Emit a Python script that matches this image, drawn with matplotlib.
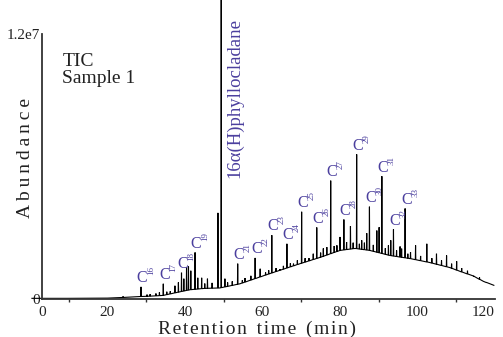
import numpy as np
import matplotlib
matplotlib.use("Agg")
import matplotlib.pyplot as plt

# ---------------- data ----------------
# baseline / UCM hump anchors: retention time (min), abundance (x1e6)
base_rt = [0.5, 10, 20, 24, 28, 30, 34.3, 38, 41.3, 45, 49.0, 54.2, 61.9, 69.7,
           74.8, 80.0, 83.9, 87.7, 92.9, 98.1, 103.2, 108.4, 111.0, 114.3, 117.0, 119.7]
base_val = [0.03, 0.03, 0.04, 0.07, 0.11, 0.12, 0.16, 0.3, 0.42, 0.48, 0.5, 0.69, 1.15, 1.6,
            1.88, 2.2, 2.29, 2.2, 1.97, 1.83, 1.65, 1.42, 1.25, 1.05, 0.8, 0.62]

# resolved peaks: retention time (min), apex abundance (x1e6)
peak_rt = [24.0, 26.5, 28.65, 30.2, 31.0, 32.5, 33.4, 34.4, 35.3, 36.2, 37.4, 38.3,
           39.1, 39.7, 40.4, 40.9, 41.5, 42.6, 43.3, 44.3, 45.1, 45.8, 47.0, 48.5,
           49.35, 50.3, 51.0, 52.2, 53.6, 54.8, 55.5, 57.0, 58.1, 59.4, 60.8, 61.6,
           62.4, 63.5, 64.5, 65.4, 66.3, 67.2, 68.0, 69.0, 70.1, 71.0, 72.0, 73.1,
           74.0, 75.0, 75.7, 76.6, 77.6, 78.5, 79.2, 80.0, 81.0, 81.7, 82.7, 83.4,
           84.3, 85.0, 85.6, 86.3, 86.9, 87.6, 88.6, 89.5, 90.1, 90.8, 91.7, 92.5,
           93.1, 93.8, 94.6, 95.5, 95.9, 96.8, 97.5, 98.2, 99.5, 100.8, 102.4, 103.7,
           104.9, 106.2, 107.5, 108.8, 110.1, 111.4, 112.9, 114.5, 116.0, 117.8]
peak_top = [0.12, 0.10, 0.55, 0.20, 0.22, 0.25, 0.30, 0.69, 0.33, 0.35, 0.60, 0.75,
            1.19, 0.92, 1.42, 1.47, 1.28, 2.11, 0.96, 0.96, 0.70, 0.92, 0.73, 3.9,
            13.6, 0.92, 0.75, 0.80, 1.60, 0.85, 0.95, 1.05, 1.86, 1.37, 1.20, 1.30,
            2.89, 1.40, 1.35, 1.50, 2.50, 1.62, 1.60, 1.75, 3.95, 1.85, 1.85, 2.05,
            3.24, 2.10, 2.29, 2.35, 5.36, 2.40, 2.43, 2.81, 3.60, 2.58, 3.30, 2.55,
            6.55, 2.50, 2.66, 2.55, 2.98, 4.18, 2.45, 3.10, 3.25, 5.56, 2.30, 2.43,
            2.66, 3.15, 2.20, 2.38, 2.28, 4.10, 2.05, 2.12, 2.43, 1.95, 2.50, 1.85,
            2.05, 1.75, 1.97, 1.60, 1.71, 1.40, 1.28, 1.05, 0.98, 0.75]

# n-alkane labels
alk_num = ['16', '17', '18', '19', '21', '22', '23', '24', '25', '26', '27', '28',
           '29', '30', '31', '32', '33']
alk_rt = [28.65, 34.4, 39.1, 42.6, 53.6, 58.1, 62.4, 66.3, 70.1, 74.0, 77.6, 81.0,
          84.3, 87.6, 90.8, 93.8, 96.8]

compound_label = "16α(H)phyllocladane"

x_ticks = [20, 40, 60, 80, 100, 120]
x_minor = [10, 30, 50, 70, 90, 110]

# ---------------- figure ----------------
plt.rcParams['font.family'] = ['Liberation Serif', 'DejaVu Serif']

PURPLE = '#4b3f9e'
INK = '#222222'
SCALE = 1e6

fig = plt.figure(figsize=(5.03, 3.37), dpi=100)
ax = fig.add_axes([42/503, (337-299)/337, (495-42)/503, (299-34)/337])

x_left = 3.1
ax.set_xlim(x_left, 120)
ax.set_ylim(0, 12e6)

# build the trace: baseline anchors plus spikes at each peak
pts = [(x, v) for x, v in zip(base_rt, base_val)]
for x, t in zip(peak_rt, peak_top):
    b = float(np.interp(x, base_rt, base_val))
    pts += [(x - 0.06, b), (x, t), (x + 0.06, b)]
pts.sort(key=lambda p: p[0])
tx = np.array([p[0] for p in pts])
ty = np.array([p[1] for p in pts]) * SCALE
ax.plot(tx, ty, color='black', lw=0.8, clip_on=False, solid_joinstyle='miter')

# labels
top_of = dict(zip(peak_rt, peak_top))
for num, rt in zip(alk_num, alk_rt):
    top = top_of[rt] * SCALE
    ax.annotate('C', xy=(rt, top), xytext=(0.8, 0.5), textcoords='offset points',
                ha='center', va='bottom', fontsize=11.5, color=PURPLE)
    ax.annotate(num, xy=(rt, top), xytext=(4.4, 8.3), textcoords='offset points',
                ha='left', va='bottom', rotation=90, fontsize=6.5, color=PURPLE)

ax.text(52.9, 9.1e6, compound_label, rotation=90, ha='center', va='center',
        fontsize=13.5, color=PURPLE)

ax.text(0.045, 0.93, "TIC\nSample 1", transform=ax.transAxes, ha='left', va='top',
        fontsize=14, linespacing=1.05, color=INK)

# axes styling
for s in ['top', 'right']:
    ax.spines[s].set_visible(False)
for s in ['left', 'bottom']:
    ax.spines[s].set_color('#333333')
    ax.spines[s].set_linewidth(1.3)

ax.set_xticks([x_left] + x_ticks)
ax.set_xticklabels(['0'] + [str(v) for v in x_ticks])
ax.set_xticks(x_minor, minor=True)
ax.tick_params(axis='x', which='major', length=0, pad=5, labelsize=11, colors=INK)
ax.tick_params(axis='x', which='minor', length=2.5, width=1.0, color='#333333')
ax.get_xticklabels()[-1].set_ha('right')

ax.set_yticks([0, 12e6])
ax.set_yticklabels(['0', '1.2e7'])
ax.tick_params(axis='y', length=0, pad=1.5, labelsize=11, colors=INK)

hair = '\u200a'
xl = '  '.join(hair.join(w) for w in "Retention time (min)".split(' '))
ax.set_xlabel(xl, fontsize=14, color=INK)
ax.xaxis.label.set_va('baseline')
ax.xaxis.set_label_coords((257.5-42)/453, (299-333.5)/265)

ax.set_ylabel('\u2009'.join("Abundance"), fontsize=14, color=INK)
ax.yaxis.label.set_va('center')
ax.yaxis.set_label_coords((25-42)/453, (299-158)/265)

fig.savefig('out.png', dpi=100)
